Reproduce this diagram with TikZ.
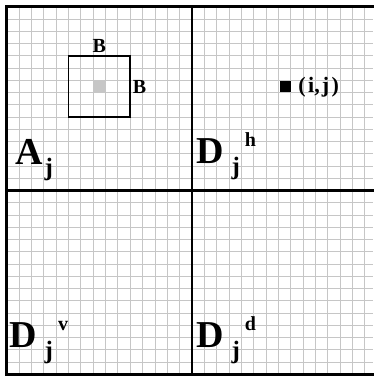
\documentclass[tikz,border=0pt]{standalone}
\usepackage{fontspec}
\setmainfont{Liberation Serif}
\newcommand{\bandlabel}[4][8pt]{\fontsize{38}{40}\selectfont #2\kern#1\raisebox{-11pt}{\fontsize{25}{27}\selectfont #3}\kern5pt\raisebox{17pt}{\fontsize{20}{22}\selectfont #4}}

\begin{document}
\begin{tikzpicture}[x=12.35pt,y=12.25pt,
  lbl/.style={inner sep=0pt,anchor=base west,font=\bfseries},
  tag/.style={inner sep=0pt,font=\bfseries\fontsize{20}{22}\selectfont}]
\useasboundingbox (-6.7pt,-1.8pt) rectangle (367.3pt,374.2pt);
\draw[step=1,color=gray!45,line width=0.8pt](0,0) grid (29.7,30);
\draw[line width=2.6pt](29.74,0)--(0,0)--(0,30)--(29.74,30);
\draw[line width=2.6pt](15,0)--(15,30) (0,15)--(29.74,15);

% window B x B round the grey pixel
\fill[gray!45](7,23) rectangle (8,24);
\draw[line width=1.6pt](5,21) rectangle (10,26);
\node[tag,anchor=south] (btop) at (7.5,26.2) {B};
\node[tag,anchor=west] (bright) at (10.2,23.45) {B};

% pixel (i,j)
\fill (22.1,23.05) rectangle (23,23.95);
\node[tag,anchor=west] (ij) at (23.6,23.4) {\fontsize{22}{24}\selectfont(\kern2.5pt i,\kern2pt j\kern2.5pt)};

% sub-bands
\node[lbl] (aj) at (0.67,17.13) {\bandlabel[2pt]{A}{j}{}};
\node[lbl] (dh) at (15.33,17.16) {\bandlabel{D}{j}{h}};
\node[lbl] (dv) at (0.19,2.14) {\bandlabel{D}{j}{v}};
\node[lbl] (dd) at (15.33,2.14) {\bandlabel{D}{j}{d}};
\end{tikzpicture}
\end{document}
